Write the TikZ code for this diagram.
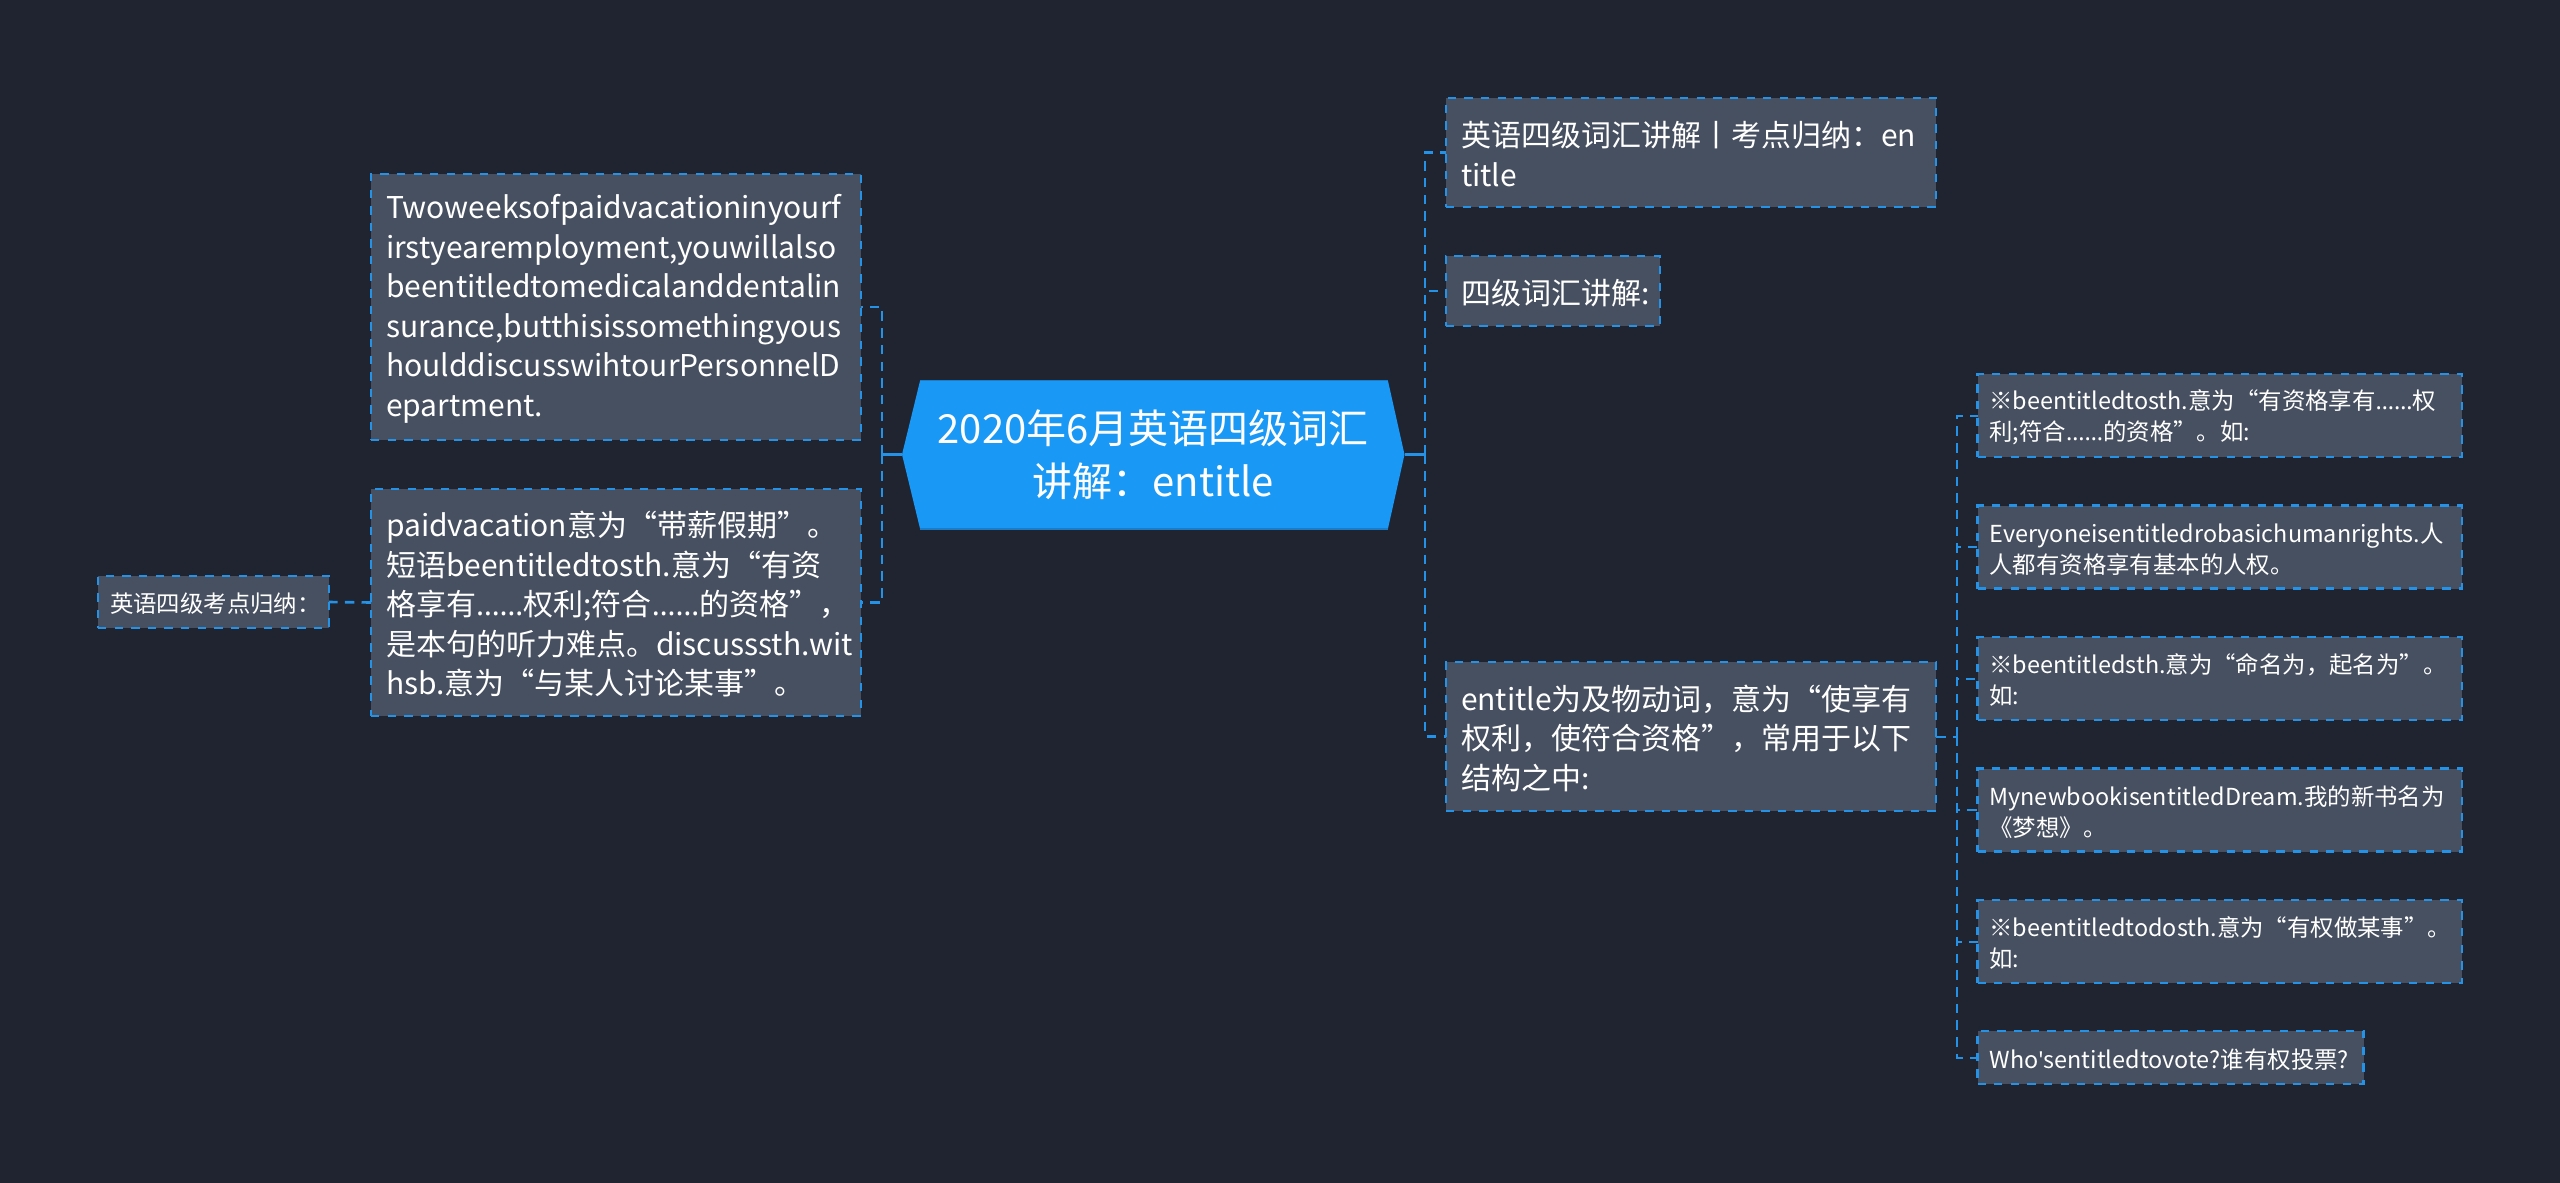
\documentclass[tikz,border=0pt]{standalone}
\usepackage{fontspec}
\setmainfont{Noto Sans CJK SC}
\newfontfamily\latinf{Noto Sans}
\newcommand{\ellip}{{\latinf ……}}
\newcommand{\downtxt}{\noindent\vadjust pre{\vskip 3.5pt}}
\definecolor{bgc}{HTML}{1F2430}
\definecolor{boxc}{HTML}{475060}
\definecolor{linec}{HTML}{2492E6}
\definecolor{hexc}{HTML}{1A98F5}
\definecolor{hexedge}{HTML}{1B7CC8}
\tikzset{
  x=1pt,y=-1pt,
  bx/.style={draw=linec,fill=boxc,line width=2.2pt,dash pattern=on 8.3pt off 8.3pt,text=white,anchor=north west,align=left,inner ysep=0pt,outer sep=0pt},
  big/.style={bx,font=\fontsize{30}{39.6}\selectfont,inner xsep=15pt,execute at begin node=\downtxt},
  small/.style={bx,font=\fontsize{23.4}{31}\selectfont,inner xsep=12pt,execute at begin node=\downtxt},
  conn/.style={draw=linec,line width=2.6pt,dash pattern=on 9.5pt off 7.2pt},
  subconn/.style={conn,line width=2pt},
  solidc/.style={draw=linec,line width=3.5pt},
}
\begin{document}
\begin{tikzpicture}
\useasboundingbox (0,0) rectangle (2560,1183);
\fill[bgc] (0,0) rectangle (2560,1183);
% central topic
\fill[hexc] (902,454.5) -- (920,381) -- (1388,381) -- (1404.5,454.5) -- (1388,528.5) -- (920,528.5) -- cycle;
\draw[hexedge,line width=1.5pt] (920,380.5) -- (1388,380.5);
\draw[hexedge,line width=1.5pt] (920,529) -- (1388,529);
\node[text=white,align=center,font=\fontsize{40}{53}\selectfont,minimum width=502.5pt,minimum height=148pt,inner sep=0pt,outer sep=0pt] (hub) at (1153.25,454.5) {2020年6月英语四级词汇\\讲解：entitle};
% left branch
\node[big,text width=460pt,minimum height=266pt] (two) at (371,174) {Twoweeksofpaidvacationinyourf\\irstyearemployment,youwillalso\\beentitledtomedicalanddentalin\\surance,butthisissomethingyous\\houlddiscusswihtourPersonnelD\\epartment.};
\node[big,text width=460pt,minimum height=227pt] (paid) at (371,489) {paidvacation意为“带薪假期”。\\短语beentitledtosth.意为“有资\\格享有\ellip 权利;符合\ellip 的资格”，\\是本句的听力难点。discusssth.wit\\hsb.意为“与某人讨论某事”。};
\node[small,text width=207pt,minimum height=52pt] (kao) at (98,576) {英语四级考点归纳：};
% right branch
\node[big,text width=460pt,minimum height=109pt] (r1) at (1446,98) {英语四级词汇讲解丨考点归纳：en\\title};
\node[big,text width=184pt,minimum height=70pt] (r2) at (1446,256) {四级词汇讲解:};
\node[big,text width=460pt,minimum height=149pt] (r3) at (1446,662) {entitle为及物动词，意为“使享有\\权利，使符合资格”，常用于以下\\结构之中:};
% leaves
\node[small,text width=460.5pt,minimum height=83pt] (a) at (1977.5,374) {※beentitledtosth.意为“有资格享有\ellip 权\\利;符合\ellip 的资格”。如:};
\node[small,text width=460.5pt,minimum height=83pt] (b) at (1977.5,505.5) {Everyoneisentitledrobasichumanrights.人\\人都有资格享有基本的人权。};
\node[small,text width=460.5pt,minimum height=83pt] (c) at (1977.5,637) {※beentitledsth.意为“命名为，起名为”。\\如:};
\node[small,text width=460.5pt,minimum height=83pt] (d) at (1977.5,768.5) {MynewbookisentitledDream.我的新书名为\\《梦想》。};
\node[small,text width=460.5pt,minimum height=83pt] (e) at (1977.5,900) {※beentitledtodosth.意为“有权做某事”。\\如:};
\node[small,text width=362pt,minimum height=53pt] (f) at (1977.5,1031) {Who{\latinf '}sentitledtovote?谁有权投票?};
% junctions
\coordinate (lj) at (882,454.5);
\coordinate (rj) at (1425,454.5);
\coordinate (sj) at (1957,736.5);
% connectors
\draw[solidc] (hub.west) -- (lj);
\draw[solidc] (hub.east) -- (rj);
\draw[conn] (lj) |- (two.east);
\draw[conn] (lj) |- (paid.east);
\draw[conn] (paid.west) -- (kao.east);
\draw[conn] (rj) |- (r1.west);
\draw[conn] (rj) |- (r2.west);
\draw[conn] (rj) |- (r3.west);
\draw[subconn] (r3.east) -- (sj);
\foreach \n in {a,b,c,d,e,f} \draw[subconn] (sj) |- (\n.west);
\end{tikzpicture}
\end{document}
